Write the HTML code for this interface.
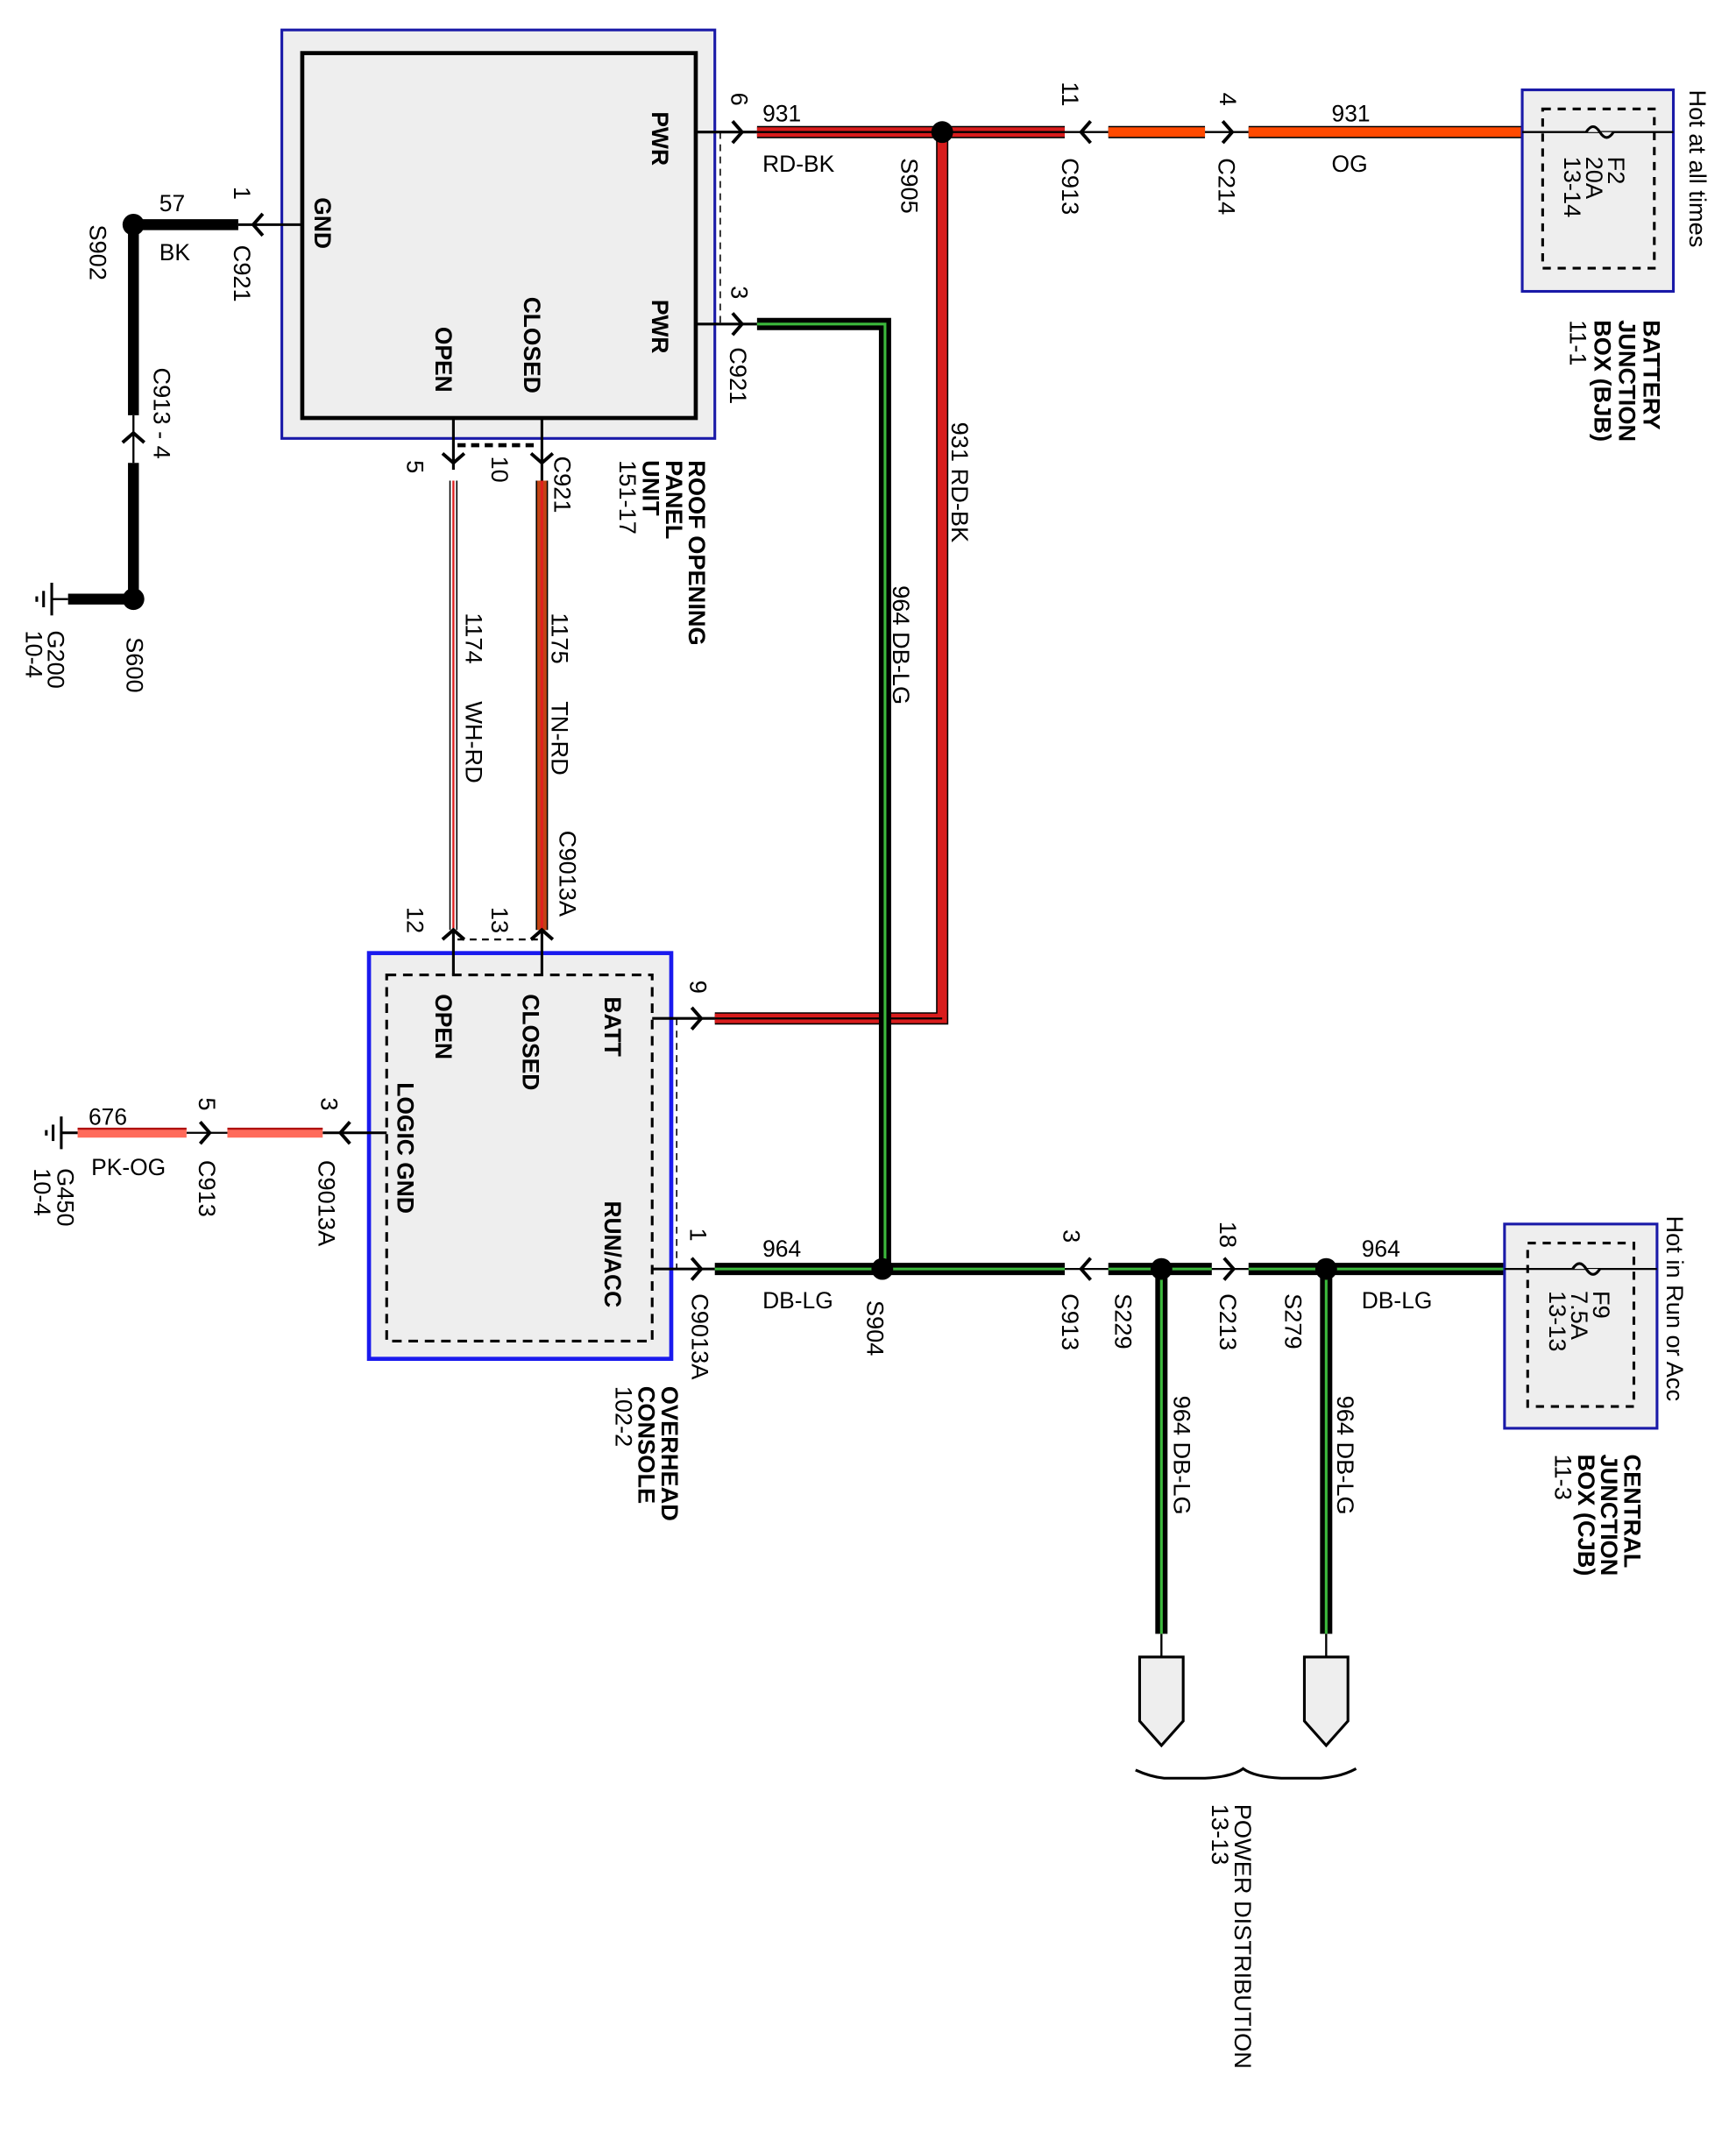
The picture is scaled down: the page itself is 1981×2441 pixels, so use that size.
<!DOCTYPE html>
<html><head><meta charset="utf-8"><style>
html,body{margin:0;padding:0;background:#fff}
svg{display:block}
text{font-family:"Liberation Sans",Arial,sans-serif;font-size:17px;fill:#000}
.b{font-weight:bold}
.s{font-size:17.5px}
</style></head><body>
<svg width="1981" height="2441" viewBox="0 0 1275 1571" preserveAspectRatio="none" xmlns="http://www.w3.org/2000/svg">
<defs>
<g id="chR"><path d="M-7,-8 L0,0 L-7,8" fill="none" stroke="#000" stroke-width="2.5"/></g>
<g id="chL"><path d="M7,-8 L0,0 L7,8" fill="none" stroke="#000" stroke-width="2.5"/></g>
<g id="chU"><path d="M-8,7 L0,0 L8,7" fill="none" stroke="#000" stroke-width="2.5"/></g>
<g id="chD"><path d="M-8,-7 L0,0 L8,-7" fill="none" stroke="#000" stroke-width="2.5"/></g>
</defs>

<rect x="207" y="22" width="318" height="300" fill="#eeeeee" stroke="#1a1aa8" stroke-width="2"/>
<rect x="222" y="39" width="289" height="268" fill="#eeeeee" stroke="#000" stroke-width="3"/>
<text class="b" transform="translate(479 82) rotate(90)">PWR</text>
<text class="b" transform="translate(479 220) rotate(90)">PWR</text>
<text class="b" transform="translate(231 145) rotate(90)">GND</text>
<text class="b" transform="translate(320 240) rotate(90)">OPEN</text>
<text class="b" transform="translate(385 218) rotate(90)">CLOSED</text>
<line x1="529" y1="97" x2="529" y2="238" stroke="#000" stroke-width="1" stroke-dasharray="5,4"/>

<line x1="511" y1="97" x2="556" y2="97" stroke="#000" stroke-width="2"/>
<use href="#chR" x="545" y="97"/>
<text class="s" transform="translate(537 68) rotate(90)">6</text>
<text x="560" y="89">931</text>
<text x="560" y="126">RD-BK</text>
<line x1="556" y1="97" x2="782" y2="97" stroke="#000" stroke-width="9"/>
<line x1="556" y1="97" x2="782" y2="97" stroke="#d81c1c" stroke-width="7"/>
<line x1="556" y1="97" x2="782" y2="97" stroke="#000" stroke-width="1.5"/>
<line x1="782" y1="97" x2="814" y2="97" stroke="#000" stroke-width="1.5"/>
<use href="#chL" x="794" y="97"/>
<text class="s" transform="translate(780 60) rotate(90)">11</text>
<text class="s" transform="translate(780 116) rotate(90)">C913</text>
<line x1="814" y1="97" x2="885" y2="97" stroke="#000" stroke-width="9"/>
<line x1="814" y1="97" x2="885" y2="97" stroke="#ff4a00" stroke-width="7"/>
<line x1="885" y1="97" x2="917" y2="97" stroke="#000" stroke-width="1.5"/>
<use href="#chR" x="905" y="97"/>
<text class="s" transform="translate(896 68) rotate(90)">4</text>
<text class="s" transform="translate(895 116) rotate(90)">C214</text>
<line x1="917" y1="97" x2="1118" y2="97" stroke="#000" stroke-width="9"/>
<line x1="917" y1="97" x2="1118" y2="97" stroke="#ff4a00" stroke-width="7"/>
<text x="978" y="89">931</text>
<text x="978" y="126">OG</text>
<text class="s" transform="translate(662 116) rotate(90)">S905</text>

<rect x="1118" y="66" width="111" height="148" fill="#eeeeee" stroke="#1a1aa8" stroke-width="2"/>
<rect x="1133" y="80" width="82" height="117" fill="none" stroke="#000" stroke-width="2" stroke-dasharray="6,5"/>
<line x1="1118" y1="97" x2="1229" y2="97" stroke="#000" stroke-width="1.5"/>
<path d="M1165,97 q5,-8 10,0 q5,8 10,0" fill="#eee" stroke="#000" stroke-width="2"/>
<text class="s" transform="translate(1181 115) rotate(90)">F2</text>
<text class="s" transform="translate(1165 115) rotate(90)">20A</text>
<text class="s" transform="translate(1149 115) rotate(90)">13-14</text>
<text class="s" transform="translate(1241 66) rotate(90)">Hot at all times</text>
<text class="s b" transform="translate(1207 235) rotate(90)">BATTERY</text>
<text class="s b" transform="translate(1189 235) rotate(90)">JUNCTION</text>
<text class="s b" transform="translate(1171 235) rotate(90)">BOX (BJB)</text>
<text class="s" transform="translate(1153 235) rotate(90)">11-1</text>

<path d="M692,97 L692,748 L525,748" fill="none" stroke="#000" stroke-width="9"/>
<path d="M692,97 L692,748 L525,748" fill="none" stroke="#d81c1c" stroke-width="7"/>
<path d="M525,748 L692,748" fill="none" stroke="#000" stroke-width="1.5"/>
<circle cx="692" cy="97" r="8"/>
<text class="s" transform="translate(699 310) rotate(90)">931   RD-BK</text>

<line x1="511" y1="238" x2="556" y2="238" stroke="#000" stroke-width="2"/>
<use href="#chR" x="545" y="238"/>
<text class="s" transform="translate(537 210) rotate(90)">3</text>
<text class="s" transform="translate(536 255) rotate(90)">C921</text>
<path d="M556,238 L650,238 L650,932" fill="none" stroke="#000" stroke-width="9"/>
<path d="M556,238 L650,238 L650,932" fill="none" stroke="#3cb83c" stroke-width="2"/>
<text class="s" transform="translate(656 430) rotate(90)">964   DB-LG</text>

<line x1="222" y1="165" x2="175" y2="165" stroke="#000" stroke-width="2"/>
<use href="#chL" x="186" y="165"/>
<text class="s" transform="translate(172 137) rotate(90)">1</text>
<text class="s" transform="translate(172 180) rotate(90)">C921</text>
<line x1="98" y1="165" x2="175" y2="165" stroke="#000" stroke-width="8"/>
<circle cx="98" cy="165" r="8"/>
<text x="117" y="155">57</text>
<text x="117" y="191">BK</text>
<text class="s" transform="translate(66 165) rotate(90)">S902</text>
<line x1="98" y1="165" x2="98" y2="305" stroke="#000" stroke-width="8"/>
<line x1="98" y1="305" x2="98" y2="340" stroke="#000" stroke-width="1.5"/>
<use href="#chU" x="98" y="318"/>
<line x1="98" y1="340" x2="98" y2="440" stroke="#000" stroke-width="8"/>
<text class="s" transform="translate(113 270) rotate(90)">C913 - 4</text>
<circle cx="98" cy="440" r="8"/>
<text class="s" transform="translate(93 468) rotate(90)">S600</text>
<line x1="50" y1="440" x2="95" y2="440" stroke="#000" stroke-width="8"/>
<line x1="38" y1="440" x2="50" y2="440" stroke="#000" stroke-width="1.5"/>
<line x1="38" y1="428" x2="38" y2="452" stroke="#000" stroke-width="2"/>
<line x1="32" y1="434" x2="32" y2="446" stroke="#000" stroke-width="2"/>
<line x1="27" y1="438" x2="27" y2="442" stroke="#000" stroke-width="2"/>
<text class="s" transform="translate(35 463) rotate(90)">G200</text>
<text class="s" transform="translate(19 463) rotate(90)">10-4</text>

<line x1="333" y1="307" x2="333" y2="345" stroke="#000" stroke-width="2"/>
<line x1="398" y1="307" x2="398" y2="355" stroke="#000" stroke-width="2"/>
<use href="#chD" x="333" y="340"/>
<use href="#chD" x="398" y="340"/>
<line x1="336" y1="327" x2="396" y2="327" stroke="#000" stroke-width="3" stroke-dasharray="6,4"/>
<text class="s" transform="translate(299 338) rotate(90)">5</text>
<text class="s" transform="translate(361 335) rotate(90)">10</text>
<text class="s" transform="translate(407 335) rotate(90)">C921</text>
<text class="s b" transform="translate(506 338) rotate(90)">ROOF OPENING</text>
<text class="s b" transform="translate(489 338) rotate(90)">PANEL</text>
<text class="s b" transform="translate(472 338) rotate(90)">UNIT</text>
<text class="s" transform="translate(455 338) rotate(90)">151-17</text>

<line x1="333" y1="353" x2="333" y2="683" stroke="#000" stroke-width="6"/>
<line x1="333" y1="353" x2="333" y2="683" stroke="#fff" stroke-width="4"/>
<line x1="333" y1="353" x2="333" y2="683" stroke="#e02020" stroke-width="1.5"/>
<text class="s" transform="translate(342 450) rotate(90)">1174</text>
<text class="s" transform="translate(342 515) rotate(90)">WH-RD</text>
<line x1="398" y1="353" x2="398" y2="683" stroke="#000" stroke-width="9"/>
<line x1="398" y1="353" x2="398" y2="683" stroke="#c24414" stroke-width="7"/>
<line x1="398" y1="353" x2="398" y2="683" stroke="#e02020" stroke-width="2"/>
<text class="s" transform="translate(405 450) rotate(90)">1175</text>
<text class="s" transform="translate(405 515) rotate(90)">TN-RD</text>
<text class="s" transform="translate(411 610) rotate(90)">C9013A</text>
<text class="s" transform="translate(299 666) rotate(90)">12</text>
<text class="s" transform="translate(361 666) rotate(90)">13</text>

<rect x="271" y="700" width="222" height="298" fill="#eeeeee" stroke="#1a1aee" stroke-width="3"/>
<line x1="333" y1="683" x2="333" y2="716" stroke="#000" stroke-width="2"/>
<line x1="398" y1="683" x2="398" y2="716" stroke="#000" stroke-width="2"/>
<use href="#chU" x="333" y="683"/>
<use href="#chU" x="398" y="683"/>
<line x1="336" y1="690" x2="396" y2="690" stroke="#000" stroke-width="1.5" stroke-dasharray="5,4"/>
<rect x="284" y="716" width="195" height="269" fill="none" stroke="#000" stroke-width="2" stroke-dasharray="7,5"/>
<text class="b" transform="translate(444 732) rotate(90)">BATT</text>
<text class="b" transform="translate(384 730) rotate(90)">CLOSED</text>
<text class="b" transform="translate(320 730) rotate(90)">OPEN</text>
<text class="b" transform="translate(292 795) rotate(90)">LOGIC GND</text>
<text class="b" transform="translate(444 882) rotate(90)">RUN/ACC</text>
<line x1="497" y1="748" x2="497" y2="932" stroke="#000" stroke-width="1" stroke-dasharray="5,4"/>
<line x1="479" y1="748" x2="525" y2="748" stroke="#000" stroke-width="2"/>
<use href="#chR" x="515" y="748"/>
<text class="s" transform="translate(507 720) rotate(90)">9</text>
<line x1="479" y1="932" x2="525" y2="932" stroke="#000" stroke-width="2"/>
<use href="#chR" x="515" y="932"/>
<text class="s" transform="translate(507 902) rotate(90)">1</text>
<text class="s" transform="translate(508 950) rotate(90)">C9013A</text>
<text class="s b" transform="translate(486 1018) rotate(90)">OVERHEAD</text>
<text class="s b" transform="translate(469 1018) rotate(90)">CONSOLE</text>
<text class="s" transform="translate(452 1018) rotate(90)">102-2</text>

<line x1="284" y1="832" x2="237" y2="832" stroke="#000" stroke-width="2"/>
<use href="#chL" x="250" y="832"/>
<text class="s" transform="translate(236 806) rotate(90)">3</text>
<text class="s" transform="translate(234 852) rotate(90)">C9013A</text>
<line x1="167" y1="832" x2="237" y2="832" stroke="#ff6a5a" stroke-width="7"/>
<line x1="167" y1="829" x2="237" y2="829" stroke="#b01010" stroke-width="1.5"/>
<line x1="137" y1="832" x2="167" y2="832" stroke="#000" stroke-width="1.5"/>
<use href="#chR" x="154" y="832"/>
<text class="s" transform="translate(146 806) rotate(90)">5</text>
<text class="s" transform="translate(146 852) rotate(90)">C913</text>
<line x1="57" y1="832" x2="137" y2="832" stroke="#ff6a5a" stroke-width="7"/>
<line x1="57" y1="829" x2="137" y2="829" stroke="#b01010" stroke-width="1.5"/>
<line x1="45" y1="832" x2="57" y2="832" stroke="#000" stroke-width="2"/>
<line x1="45" y1="820" x2="45" y2="844" stroke="#000" stroke-width="2"/>
<line x1="39" y1="826" x2="39" y2="838" stroke="#000" stroke-width="2"/>
<line x1="34" y1="830" x2="34" y2="834" stroke="#000" stroke-width="2"/>
<text x="65" y="826">676</text>
<text x="67" y="863">PK-OG</text>
<text class="s" transform="translate(42 858) rotate(90)">G450</text>
<text class="s" transform="translate(25 858) rotate(90)">10-4</text>

<g>
<line x1="525" y1="932" x2="782" y2="932" stroke="#000" stroke-width="9"/>
<line x1="525" y1="932" x2="782" y2="932" stroke="#3cb83c" stroke-width="2"/>
<line x1="814" y1="932" x2="890" y2="932" stroke="#000" stroke-width="9"/>
<line x1="814" y1="932" x2="890" y2="932" stroke="#3cb83c" stroke-width="2"/>
<line x1="917" y1="932" x2="1105" y2="932" stroke="#000" stroke-width="9"/>
<line x1="917" y1="932" x2="1105" y2="932" stroke="#3cb83c" stroke-width="2"/>
<line x1="853" y1="932" x2="853" y2="1200" stroke="#000" stroke-width="9"/>
<line x1="853" y1="932" x2="853" y2="1200" stroke="#3cb83c" stroke-width="2"/>
<line x1="974" y1="932" x2="974" y2="1200" stroke="#000" stroke-width="9"/>
<line x1="974" y1="932" x2="974" y2="1200" stroke="#3cb83c" stroke-width="2"/>
</g>
<line x1="782" y1="932" x2="814" y2="932" stroke="#000" stroke-width="1.5"/>
<line x1="890" y1="932" x2="917" y2="932" stroke="#000" stroke-width="1.5"/>
<use href="#chL" x="794" y="932"/>
<use href="#chR" x="906" y="932"/>
<circle cx="648" cy="932" r="8"/>
<circle cx="853" cy="932" r="8"/>
<circle cx="974" cy="932" r="8"/>
<text x="560" y="923">964</text>
<text x="560" y="961">DB-LG</text>
<text class="s" transform="translate(637 955) rotate(90)">S904</text>
<text class="s" transform="translate(781 903) rotate(90)">3</text>
<text class="s" transform="translate(780 950) rotate(90)">C913</text>
<text class="s" transform="translate(819 950) rotate(90)">S229</text>
<text class="s" transform="translate(896 897) rotate(90)">18</text>
<text class="s" transform="translate(896 950) rotate(90)">C213</text>
<text class="s" transform="translate(944 950) rotate(90)">S279</text>
<text x="1000" y="923">964</text>
<text x="1000" y="961">DB-LG</text>
<text class="s" transform="translate(862 1025) rotate(90)">964   DB-LG</text>
<text class="s" transform="translate(982 1025) rotate(90)">964   DB-LG</text>

<rect x="1105" y="899" width="112" height="150" fill="#eeeeee" stroke="#1a1aa8" stroke-width="2"/>
<rect x="1122" y="913" width="78" height="120" fill="none" stroke="#000" stroke-width="2" stroke-dasharray="6,5"/>
<line x1="1105" y1="932" x2="1217" y2="932" stroke="#000" stroke-width="1.5"/>
<path d="M1155,932 q5,-8 10,0 q5,8 10,0" fill="#eee" stroke="#000" stroke-width="2"/>
<text class="s" transform="translate(1170 948) rotate(90)">F9</text>
<text class="s" transform="translate(1154 948) rotate(90)">7.5A</text>
<text class="s" transform="translate(1138 948) rotate(90)">13-13</text>
<text class="s" transform="translate(1224 893) rotate(90)">Hot in Run or Acc</text>
<text class="s b" transform="translate(1193 1068) rotate(90)">CENTRAL</text>
<text class="s b" transform="translate(1176 1068) rotate(90)">JUNCTION</text>
<text class="s b" transform="translate(1159 1068) rotate(90)">BOX (CJB)</text>
<text class="s" transform="translate(1142 1068) rotate(90)">11-3</text>

<line x1="853" y1="1200" x2="853" y2="1217" stroke="#000" stroke-width="1.5"/>
<line x1="974" y1="1200" x2="974" y2="1217" stroke="#000" stroke-width="1.5"/>
<path d="M837,1217 L869,1217 L869,1264 L853,1282 L837,1264 Z" fill="#eeeeee" stroke="#000" stroke-width="2"/>
<path d="M958,1217 L990,1217 L990,1264 L974,1282 L958,1264 Z" fill="#eeeeee" stroke="#000" stroke-width="2"/>
<path d="M834,1300 Q845,1305 855,1306 L885,1306 Q905,1305 913,1299 Q921,1305 941,1306 L970,1306 Q985,1305 996,1299" fill="none" stroke="#000" stroke-width="2"/>
<text class="s" transform="translate(907 1325) rotate(90)">POWER DISTRIBUTION</text>
<text class="s" transform="translate(890 1325) rotate(90)">13-13</text>
</svg>
</body></html>
